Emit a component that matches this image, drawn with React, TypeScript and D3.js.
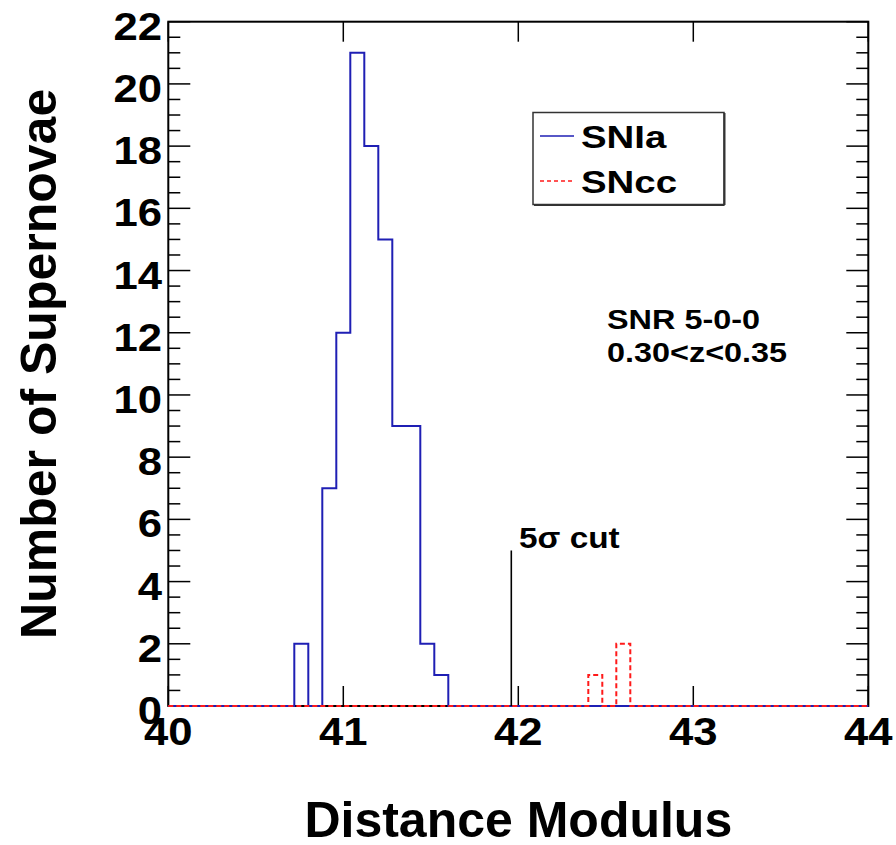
import React from "react";
import * as d3 from "d3";

// Histogram binning (50 bins of 0.08 over the distance-modulus range)
const X_MIN = 40;
const X_MAX = 44;
const BIN_WIDTH = 0.08;

// SNIa counts, listed by bin lower edge
const snIaBinLow = [40.72, 40.8, 40.88, 40.96, 41.04, 41.12, 41.2, 41.28, 41.36, 41.44, 41.52];
const snIaCounts = [2, 0, 7, 12, 21, 18, 15, 9, 9, 2, 1];

// SNcc counts, listed by bin lower edge
const snCcBinLow = [42.4, 42.48, 42.56];
const snCcCounts = [1, 0, 2];

// Vertical 5-sigma cut marker
const cutPosition = 41.96;
const cutHeight = 5;

const xTickValues = [40, 41, 42, 43, 44];
const yTickValues = [0, 2, 4, 6, 8, 10, 12, 14, 16, 18, 20, 22];
const yMinorStep = 0.5;
const Y_MAX = 22;

const legendLabels = ["SNIa", "SNcc"];
const noteLines = ["SNR 5-0-0", "0.30<z<0.35"];
const cutLabel = "5σ cut";
const xTitle = "Distance Modulus";
const yTitle = "Number of Supernovae";

const W = 896;
const H = 845;
const FRAME = { left: 168.3, right: 868.3, top: 21.7, bottom: 706 };
const FONT = "'Liberation Sans', Arial, Helvetica, sans-serif";
const BLUE = "#1f1fb4";
const RED = "#ff1a1a";

const x = d3.scaleLinear().domain([X_MIN, X_MAX]).range([FRAME.left, FRAME.right]);
const y = d3.scaleLinear().domain([0, Y_MAX]).range([FRAME.bottom, FRAME.top]);

function stepPath(lows: number[], counts: number[]): string {
  const pts: [number, number][] = [[X_MIN, 0], [lows[0], 0]];
  lows.forEach((lo, i) => {
    pts.push([lo, counts[i]]);
    pts.push([lo + BIN_WIDTH, counts[i]]);
  });
  pts.push([lows[lows.length - 1] + BIN_WIDTH, 0]);
  pts.push([X_MAX, 0]);
  const line = d3
    .line<[number, number]>()
    .x((d) => x(d[0]))
    .y((d) => y(d[1]));
  return line(pts) || "";
}

function StretchText(props: {
  x: number;
  y: number;
  sx: number;
  size: number;
  anchor?: string;
  children: React.ReactNode;
}) {
  return (
    <text
      transform={`translate(${props.x},${props.y}) scale(${props.sx},1)`}
      fontSize={props.size}
      fontWeight="bold"
      fontFamily={FONT}
      textAnchor={props.anchor || "start"}
      fill="#000"
    >
      {props.children}
    </text>
  );
}

export default function App() {
  const yMinor = d3.range(0, Y_MAX + 1e-9, yMinorStep);
  const majorLen = 22;
  const minorLen = 12;
  const xTickLen = 20;

  return (
    <svg
      width={W}
      height={H}
      viewBox={`0 0 ${W} ${H}`}
      style={{ position: "absolute", left: 0, top: 0, background: "#fff" }}
    >
      <rect x={0} y={0} width={W} height={H} fill="#fff" />

      {/* y ticks on left and right axes */}
      {yMinor.map((v) => {
        const isMajor = Math.abs(v / 2 - Math.round(v / 2)) < 1e-6;
        const len = isMajor ? majorLen : minorLen;
        return (
          <g key={`yt${v}`} stroke="#000" strokeWidth={1.5}>
            <line x1={FRAME.left} x2={FRAME.left + len} y1={y(v)} y2={y(v)} />
            <line x1={FRAME.right} x2={FRAME.right - len} y1={y(v)} y2={y(v)} />
          </g>
        );
      })}

      {/* x ticks on bottom and top axes */}
      {xTickValues.map((v) => (
        <g key={`xt${v}`} stroke="#000" strokeWidth={1.5}>
          <line x1={x(v)} x2={x(v)} y1={FRAME.bottom} y2={FRAME.bottom - xTickLen} />
          <line x1={x(v)} x2={x(v)} y1={FRAME.top} y2={FRAME.top + xTickLen} />
        </g>
      ))}

      {/* frame */}
      <rect
        x={FRAME.left}
        y={FRAME.top}
        width={FRAME.right - FRAME.left}
        height={FRAME.bottom - FRAME.top}
        fill="none"
        stroke="#000"
        strokeWidth={2}
      />

      {/* histograms */}
      <path d={stepPath(snIaBinLow, snIaCounts)} fill="none" stroke={BLUE} strokeWidth={2} />
      <path
        d={stepPath(snCcBinLow, snCcCounts)}
        fill="none"
        stroke={RED}
        strokeWidth={2}
        strokeDasharray="5,3"
      />

      {/* 5 sigma cut */}
      <line
        x1={x(cutPosition)}
        x2={x(cutPosition)}
        y1={y(0)}
        y2={y(cutHeight)}
        stroke="#000"
        strokeWidth={1.6}
      />
      <StretchText x={519} y={548} sx={1.15} size={29}>
        {cutLabel}
      </StretchText>

      {/* annotation */}
      <StretchText x={607} y={329} sx={1.2} size={27}>
        {noteLines[0]}
      </StretchText>
      <StretchText x={607} y={362} sx={1.2} size={27}>
        {noteLines[1]}
      </StretchText>

      {/* legend */}
      <rect x={533} y={112.5} width={191} height={92} fill="#fff" stroke="#333" strokeWidth={1.5} />
      <line x1={534} x2={724.5} y1={205} y2={205} stroke="#333" strokeWidth={2} />
      <line x1={724.5} x2={724.5} y1={113} y2={205} stroke="#333" strokeWidth={2} />
      <line x1={540} x2={574} y1={136} y2={136} stroke={BLUE} strokeWidth={1.5} />
      <line x1={540} x2={574} y1={181} y2={181} stroke={RED} strokeWidth={1.5} strokeDasharray="4,3" />
      <StretchText x={581} y={148} sx={1.2} size={32}>
        {legendLabels[0]}
      </StretchText>
      <StretchText x={581} y={193} sx={1.2} size={32}>
        {legendLabels[1]}
      </StretchText>

      {/* tick labels */}
      {yTickValues.map((v) => (
        <StretchText key={`yl${v}`} x={162} y={y(v) + 18} sx={1.12} size={39} anchor="end">
          {v}
        </StretchText>
      ))}
      {xTickValues.map((v) => (
        <StretchText key={`xl${v}`} x={x(v)} y={745} sx={1.12} size={39} anchor="middle">
          {v}
        </StretchText>
      ))}

      {/* axis titles */}
      <text
        x={(FRAME.left + FRAME.right) / 2}
        y={837}
        fontSize={50}
        fontWeight="bold"
        fontFamily={FONT}
        textAnchor="middle"
      >
        {xTitle}
      </text>
      <text
        transform={`translate(56,${(FRAME.top + FRAME.bottom) / 2}) rotate(-90)`}
        fontSize={50}
        fontWeight="bold"
        fontFamily={FONT}
        textAnchor="middle"
      >
        {yTitle}
      </text>
    </svg>
  );
}
